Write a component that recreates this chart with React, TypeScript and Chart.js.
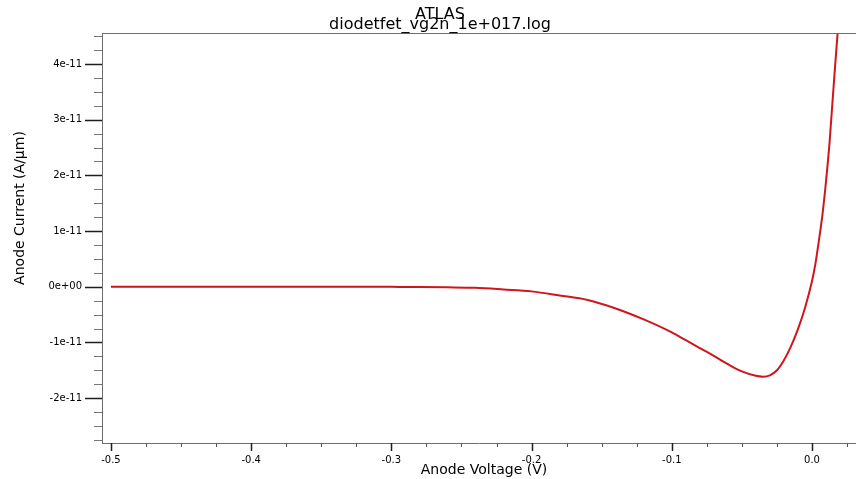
import { useEffect, useRef } from 'react';
import { Chart, registerables } from 'chart.js';

Chart.register(...registerables);

// ---- data ----
const voltage = [
  -0.5, -0.45, -0.4, -0.35, -0.3, -0.28, -0.26, -0.24, -0.22, -0.2, -0.18, -0.16,
  -0.14, -0.12, -0.1, -0.09, -0.08, -0.07, -0.06, -0.05, -0.04, -0.035, -0.03,
  -0.025, -0.02, -0.015, -0.01, -0.005, 0, 0.0025, 0.005, 0.0075, 0.01, 0.0125,
  0.015, 0.0175, 0.02,
];
const current = [
  0, 0, 0, 0, -0.002e-11, -0.004e-11, -0.01e-11, -0.02e-11, -0.049e-11, -0.083e-11,
  -0.156e-11, -0.238e-11, -0.39e-11, -0.587e-11, -0.82e-11, -0.96e-11, -1.1e-11,
  -1.24e-11, -1.39e-11, -1.52e-11, -1.6e-11, -1.615e-11, -1.59e-11, -1.5e-11,
  -1.32e-11, -1.07e-11, -0.76e-11, -0.38e-11, 0.1e-11, 0.42e-11, 0.84e-11, 1.3e-11,
  1.89e-11, 2.58e-11, 3.45e-11, 4.3e-11, 5.1e-11,
];

const xTickValues = [-0.5, -0.4, -0.3, -0.2, -0.1, 0.0];
const xTickLabels = ['-0.5', '-0.4', '-0.3', '-0.2', '-0.1', '0.0'];
const yTickValues = [-2e-11, -1e-11, 0, 1e-11, 2e-11, 3e-11, 4e-11];
const yTickLabels = ['-2e-11', '-1e-11', '0e+00', '1e-11', '2e-11', '3e-11', '4e-11'];
const xRange = [-0.5064, 0.0314];
const yRange = [-2.806e-11, 4.557e-11];
const minorPerMajor = 4;

const superTitle = 'ATLAS';
const chartTitle = 'diodetfet_vg2n_1e+017.log';
const xTitle = 'Anode Voltage (V)';
const yTitle = 'Anode Current (A/µm)';

const FONT = '"DejaVu Sans", Verdana, sans-serif';
const AXIS_COLOR = '#6e6e6e';
const LINE_COLOR = 'rgb(208, 22, 28)';

function minorValues(majors: number[], min: number, max: number) {
  const step = (majors[1] - majors[0]) / minorPerMajor;
  const out: { v: number; major: boolean }[] = [];
  const iStart = Math.floor((min - majors[0]) / step);
  const iEnd = Math.ceil((max - majors[0]) / step);
  for (let i = iStart; i <= iEnd; i++) {
    const v = majors[0] + i * step;
    if (v < min - step * 1e-6 || v > max + step * 1e-6) continue;
    out.push({ v, major: ((i % minorPerMajor) + minorPerMajor) % minorPerMajor === 0 });
  }
  return out;
}

const decorPlugin = {
  id: 'decor',
  afterDraw(chart: any) {
    const { ctx, chartArea, scales } = chart;
    const { left, right, top, bottom } = chartArea;
    ctx.save();
    // top frame line
    ctx.strokeStyle = AXIS_COLOR;
    ctx.lineWidth = 1;
    ctx.beginPath();
    ctx.moveTo(left, Math.round(top) + 0.5);
    ctx.lineTo(right, Math.round(top) + 0.5);
    ctx.stroke();

    // y ticks
    for (const t of minorValues(yTickValues, yRange[0], yRange[1])) {
      const py = Math.round(scales.y.getPixelForValue(t.v)) + 0.5;
      const len = t.major ? 17 : 8;
      ctx.strokeStyle = t.major ? '#1e1e1e' : '#777';
      ctx.lineWidth = t.major ? 1.5 : 1;
      ctx.beginPath();
      ctx.moveTo(left - len, py);
      ctx.lineTo(left, py);
      ctx.stroke();
    }
    // x ticks
    for (const t of minorValues(xTickValues, xRange[0], xRange[1])) {
      const px = Math.round(scales.x.getPixelForValue(t.v)) + 0.5;
      const len = t.major ? 8 : 4;
      ctx.strokeStyle = t.major ? '#1e1e1e' : '#555';
      ctx.lineWidth = t.major ? 1.5 : 1;
      ctx.beginPath();
      ctx.moveTo(px, bottom);
      ctx.lineTo(px, bottom + len);
      ctx.stroke();
    }

    // titles
    ctx.fillStyle = '#000';
    ctx.textAlign = 'center';
    ctx.textBaseline = 'alphabetic';
    ctx.font = `16px ${FONT}`;
    ctx.fillText(superTitle, 440, 19);
    ctx.fillText(chartTitle, 440, 29);

    ctx.font = `14px ${FONT}`;
    ctx.fillText(xTitle, 484, 474);

    ctx.save();
    ctx.translate(20, 208);
    ctx.rotate(-Math.PI / 2);
    ctx.textBaseline = 'middle';
    ctx.fillText(yTitle, 0, 0);
    ctx.restore();

    ctx.restore();
  },
};

export default function App() {
  const canvasRef = useRef<HTMLCanvasElement | null>(null);

  useEffect(() => {
    document.body.style.margin = '0';
    document.body.style.overflow = 'hidden';
    const canvas = canvasRef.current;
    if (!canvas) return;
    const chart = new Chart(canvas, {
      type: 'line',
      data: {
        datasets: [
          {
            data: voltage.map((v, i) => ({ x: v, y: current[i] })),
            borderColor: LINE_COLOR,
            borderWidth: 2,
            pointRadius: 0,
            fill: false,
            cubicInterpolationMode: 'monotone',
            clip: 0,
          },
        ],
      },
      options: {
        animation: false,
        responsive: false,
        devicePixelRatio: 1,
        layout: { padding: { top: 33, left: 0, right: 0, bottom: 0 } },
        plugins: {
          legend: { display: false },
          title: { display: false },
          tooltip: { enabled: false },
        },
        scales: {
          x: {
            type: 'linear',
            min: xRange[0],
            max: xRange[1],
            afterFit: (s: any) => {
              s.height = 36;
            },
            afterBuildTicks: (s: any) => {
              s.ticks = xTickValues.map((v) => ({ value: v }));
            },
            grid: { display: false, drawTicks: false },
            border: { display: true, color: AXIS_COLOR, width: 1 },
            ticks: {
              autoSkip: false,
              maxRotation: 0,
              padding: 11,
              color: '#000',
              font: { family: FONT, size: 10 },
              callback: (_v: any, i: number) => xTickLabels[i],
            },
          },
          y: {
            type: 'linear',
            min: yRange[0],
            max: yRange[1],
            afterFit: (s: any) => {
              s.width = 102;
            },
            afterBuildTicks: (s: any) => {
              s.ticks = yTickValues.map((v) => ({ value: v }));
            },
            grid: { display: false, drawTicks: false },
            border: { display: true, color: AXIS_COLOR, width: 1 },
            ticks: {
              autoSkip: false,
              padding: 20,
              color: '#000',
              font: { family: FONT, size: 10 },
              callback: (_v: any, i: number) => yTickLabels[i],
            },
          },
        },
      },
      plugins: [decorPlugin],
    } as any);
    return () => chart.destroy();
  }, []);

  return (
    <div style={{ width: 856, height: 479 }}>
      <canvas ref={canvasRef} width={856} height={479} />
    </div>
  );
}
